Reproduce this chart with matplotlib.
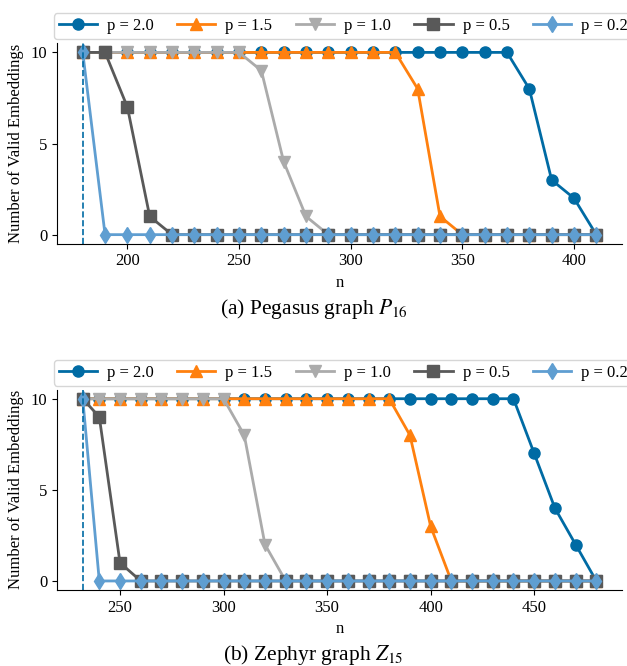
import matplotlib
matplotlib.use("Agg")
import matplotlib.pyplot as plt

plt.rcParams['font.family'] = ['Liberation Serif', 'DejaVu Serif']
plt.rcParams['mathtext.fontset'] = 'stix'
plt.rcParams['font.size'] = 12

# series labels and colours (tableau-colorblind10)
labels = ["p = 2.0", "p = 1.5", "p = 1.0", "p = 0.5", "p = 0.2"]
colors = ["#006BA4", "#FF800E", "#ABABAB", "#595959", "#5F9ED1"]
markers = ["o", "^", "v", "s", "d"]

# (a) Pegasus graph P16
n_pegasus = [180, 190, 200, 210, 220, 230, 240, 250, 260, 270, 280, 290,
             300, 310, 320, 330, 340, 350, 360, 370, 380, 390, 400, 410]
pegasus_p20 = [10, 10, 10, 10, 10, 10, 10, 10, 10, 10, 10, 10,
               10, 10, 10, 10, 10, 10, 10, 10, 8, 3, 2, 0]
pegasus_p15 = [10, 10, 10, 10, 10, 10, 10, 10, 10, 10, 10, 10,
               10, 10, 10, 8, 1, 0, 0, 0, 0, 0, 0, 0]
pegasus_p10 = [10, 10, 10, 10, 10, 10, 10, 10, 9, 4, 1, 0,
               0, 0, 0, 0, 0, 0, 0, 0, 0, 0, 0, 0]
pegasus_p05 = [10, 10, 7, 1, 0, 0, 0, 0, 0, 0, 0, 0,
               0, 0, 0, 0, 0, 0, 0, 0, 0, 0, 0, 0]
pegasus_p02 = [10, 0, 0, 0, 0, 0, 0, 0, 0, 0, 0, 0,
               0, 0, 0, 0, 0, 0, 0, 0, 0, 0, 0, 0]
pegasus_min_n = 180

# (b) Zephyr graph Z15
n_zephyr = [232, 240, 250, 260, 270, 280, 290, 300, 310, 320, 330, 340, 350,
            360, 370, 380, 390, 400, 410, 420, 430, 440, 450, 460, 470, 480]
zephyr_p20 = [10, 10, 10, 10, 10, 10, 10, 10, 10, 10, 10, 10, 10,
              10, 10, 10, 10, 10, 10, 10, 10, 10, 7, 4, 2, 0]
zephyr_p15 = [10, 10, 10, 10, 10, 10, 10, 10, 10, 10, 10, 10, 10,
              10, 10, 10, 8, 3, 0, 0, 0, 0, 0, 0, 0, 0]
zephyr_p10 = [10, 10, 10, 10, 10, 10, 10, 10, 8, 2, 0, 0, 0,
              0, 0, 0, 0, 0, 0, 0, 0, 0, 0, 0, 0, 0]
zephyr_p05 = [10, 9, 1, 0, 0, 0, 0, 0, 0, 0, 0, 0, 0,
              0, 0, 0, 0, 0, 0, 0, 0, 0, 0, 0, 0, 0]
zephyr_p02 = [10, 0, 0, 0, 0, 0, 0, 0, 0, 0, 0, 0, 0,
              0, 0, 0, 0, 0, 0, 0, 0, 0, 0, 0, 0, 0]
zephyr_min_n = 232

panels = [
    (n_pegasus, [pegasus_p20, pegasus_p15, pegasus_p10, pegasus_p05, pegasus_p02],
     pegasus_min_n, [200, 250, 300, 350, 400], r"(a) Pegasus graph $P_{16}$"),
    (n_zephyr, [zephyr_p20, zephyr_p15, zephyr_p10, zephyr_p05, zephyr_p02],
     zephyr_min_n, [250, 300, 350, 400, 450], r"(b) Zephyr graph $Z_{15}$"),
]

fig = plt.figure(figsize=(6.27, 6.66), dpi=100)
axes_pos = [[0.091, 0.634, 0.901, 0.301], [0.091, 0.114, 0.901, 0.301]]
caption_y = [0.536, 0.017]

for pos, cy, (xs, series, min_n, xticks, caption) in zip(axes_pos, caption_y, panels):
    ax = fig.add_axes(pos)
    for ys, lab, c, m in zip(series, labels, colors, markers):
        ax.plot(xs, ys, color=c, marker=m, markersize=8, linewidth=2, label=lab)
    ax.axvline(min_n, color="#006BA4", linestyle="--", linewidth=1.2)
    ax.set_xticks(xticks)
    ax.set_yticks([0, 5, 10])
    ax.set_xlabel("n", labelpad=4)
    ax.set_ylabel("Number of Valid Embeddings", labelpad=5)
    ax.spines['top'].set_visible(False)
    ax.spines['right'].set_visible(False)
    ax.legend(loc="lower left", bbox_to_anchor=(-0.006, 1.02), ncol=5,
              handlelength=2.3, columnspacing=1.4, handletextpad=0.6,
              borderpad=0.3, borderaxespad=0, fancybox=True, framealpha=0.8)
    fig.text(0.5, cy, caption, ha="center", va="center", fontsize=15.5)

fig.savefig("out.png", dpi=100)
